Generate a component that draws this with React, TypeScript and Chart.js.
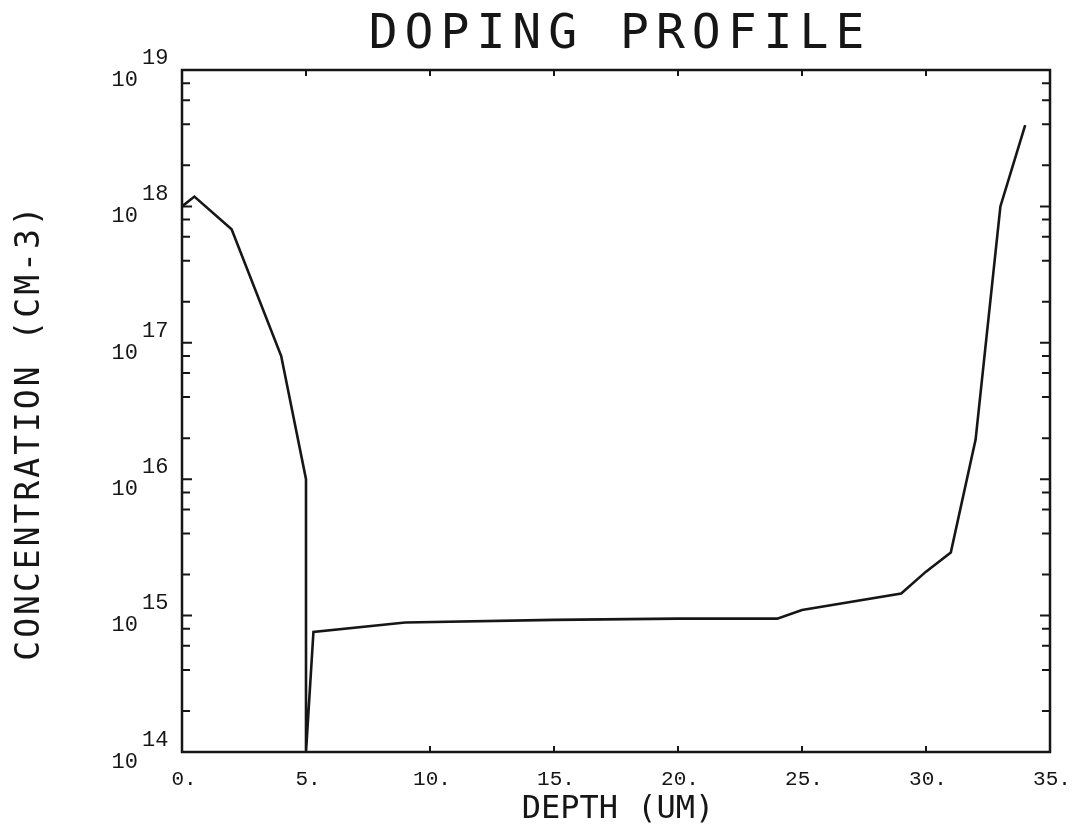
import React, { useEffect, useRef } from "react";
import { Chart, registerables } from "chart.js";

Chart.register(...registerables);

// ---- data ----
const depthUm = [0, 0.5, 2, 4, 5, 5, 5.3, 9, 15, 20, 24, 25, 29, 30, 31, 32, 33, 34];
const concentration = [
  1.0e18, 1.18e18, 6.8e17, 8.0e16, 1.0e16, 1.0e14, 7.6e14, 8.9e14, 9.3e14, 9.5e14, 9.5e14,
  1.1e15, 1.45e15, 2.1e15, 2.9e15, 1.95e16, 1.0e18, 3.95e18,
];

const xTickValues = [0, 5, 10, 15, 20, 25, 30, 35];
const xTickLabels = ["0.", "5.", "10.", "15.", "20.", "25.", "30.", "35."];
const yDecadeExponents = [14, 15, 16, 17, 18, 19];
const yMinorMultipliers = [2, 4, 6, 8];

const TITLE = "DOPING PROFILE";
const X_TITLE = "DEPTH (UM)";
const Y_TITLE = "CONCENTRATION (CM-3)";

const INK = "#161616";
const TITLE_FONT = "'DejaVu Sans Mono', monospace";
const TICK_FONT = "'Liberation Mono', 'DejaVu Sans Mono', monospace";

const framePlugin = {
  id: "hersheyFrame",
  afterDraw(chart: any) {
    const { ctx, chartArea: a } = chart;
    const x = chart.scales.x;
    const y = chart.scales.y;
    ctx.save();
    ctx.strokeStyle = INK;
    ctx.fillStyle = INK;
    ctx.lineWidth = 2.5;
    ctx.strokeRect(a.left, a.top, a.right - a.left, a.bottom - a.top);

    // x ticks (inward, top and bottom)
    ctx.lineWidth = 2;
    ctx.beginPath();
    for (const v of xTickValues) {
      const px = x.getPixelForValue(v);
      ctx.moveTo(px, a.top);
      ctx.lineTo(px, a.top + 6);
      ctx.moveTo(px, a.bottom);
      ctx.lineTo(px, a.bottom - 6);
    }
    // y ticks (inward, left and right)
    for (const e of yDecadeExponents) {
      const py = y.getPixelForValue(Math.pow(10, e));
      ctx.moveTo(a.left, py);
      ctx.lineTo(a.left + 10, py);
      ctx.moveTo(a.right, py);
      ctx.lineTo(a.right - 10, py);
      if (e < yDecadeExponents[yDecadeExponents.length - 1]) {
        for (const m of yMinorMultipliers) {
          const pm = y.getPixelForValue(m * Math.pow(10, e));
          ctx.moveTo(a.left, pm);
          ctx.lineTo(a.left + 8, pm);
          ctx.moveTo(a.right, pm);
          ctx.lineTo(a.right - 8, pm);
        }
      }
    }
    ctx.stroke();

    // x tick labels
    ctx.font = "21px " + TICK_FONT;
    ctx.textAlign = "center";
    ctx.textBaseline = "middle";
    xTickValues.forEach((v, i) => {
      ctx.fillText(xTickLabels[i], x.getPixelForValue(v) + 2, a.bottom + 27);
    });

    // y tick labels: 10 with exponent
    ctx.font = "22px " + TICK_FONT;
    for (const e of yDecadeExponents) {
      const py = y.getPixelForValue(Math.pow(10, e));
      ctx.textAlign = "right";
      ctx.fillText("10", a.left - 44, py + 10);
      ctx.textAlign = "left";
      ctx.fillText(String(e), a.left - 40, py - 12);
    }

    // titles
    ctx.font = "48px " + TITLE_FONT;
    (ctx as any).letterSpacing = "7px";
    ctx.textAlign = "center";
    ctx.fillText(TITLE, (a.left + a.right) / 2 + 4, 36);

    ctx.font = "32px " + TITLE_FONT;
    (ctx as any).letterSpacing = "0px";
    ctx.fillText(X_TITLE, (a.left + a.right) / 2 + 2, 810);

    ctx.save();
    ctx.translate(30, 432);
    ctx.rotate(-Math.PI / 2);
    ctx.font = "33px " + TITLE_FONT;
    (ctx as any).letterSpacing = "3px";
    ctx.fillText(Y_TITLE, 0, 0);
    ctx.restore();

    ctx.restore();
  },
};

export default function App() {
  const ref = useRef<HTMLCanvasElement | null>(null);
  useEffect(() => {
    if (!ref.current) return;
    const chart = new Chart(ref.current, {
      type: "scatter",
      data: {
        datasets: [
          {
            data: depthUm.map((d, i) => ({ x: d, y: concentration[i] })),
            showLine: true,
            borderColor: INK,
            borderWidth: 2.6,
            pointRadius: 0,
            fill: false,
            tension: 0,
          },
        ],
      },
      options: {
        animation: false,
        responsive: false,
        layout: { padding: { left: 182, top: 70, right: 27, bottom: 83 } },
        plugins: { legend: { display: false }, tooltip: { enabled: false }, title: { display: false } },
        scales: {
          x: { type: "linear", min: 0, max: 35, display: false },
          y: { type: "logarithmic", min: 1e14, max: 1e19, display: false },
        },
      },
      plugins: [framePlugin],
    });
    return () => chart.destroy();
  }, []);
  return (
    <div style={{ position: "absolute", left: 0, top: 0, width: 1077, height: 835, background: "#fff" }}>
      <canvas ref={ref} width={1077} height={835} style={{ display: "block" }} />
    </div>
  );
}
